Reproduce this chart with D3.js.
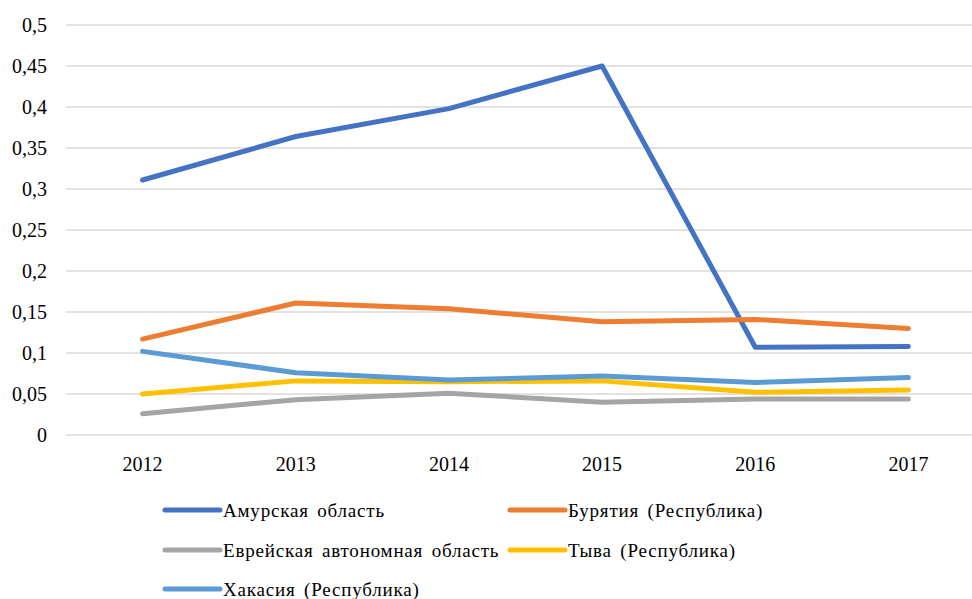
<!DOCTYPE html>
<html>
<head>
<meta charset="utf-8">
<script src="https://cdn.jsdelivr.net/npm/d3@7"></script>
<style>
  body { margin: 0; background: #fff; }
</style>
</head>
<body>
<svg id="chart" width="972" height="599"></svg>
<script>
var years = ["2012", "2013", "2014", "2015", "2016", "2017"];
var yTicks = [0, 0.05, 0.1, 0.15, 0.2, 0.25, 0.3, 0.35, 0.4, 0.45, 0.5];

var seriesNames = ["Амурская область", "Бурятия (Республика)", "Еврейская автономная область", "Тыва (Республика)", "Хакасия (Республика)"];
var amur = [0.311, 0.364, 0.398, 0.450, 0.107, 0.108];
var buryatia = [0.117, 0.161, 0.154, 0.138, 0.141, 0.130];
var evrei = [0.026, 0.043, 0.051, 0.040, 0.044, 0.044];
var tyva = [0.050, 0.066, 0.065, 0.066, 0.052, 0.055];
var khakasia = [0.102, 0.076, 0.067, 0.072, 0.064, 0.070];

var colors = ["#4472C4", "#ED7D31", "#A5A5A5", "#FFC000", "#5B9BD5"];
var allSeries = [amur, buryatia, evrei, tyva, khakasia];

var svg = d3.select("#chart");

// plot area (named so they don't clash with window.top)
var plotLeft = 66, plotRight = 985, plotTop = 25, plotBottom = 435;

var x = d3.scalePoint()
  .domain(years)
  .range([plotLeft, plotRight])
  .padding(0.5);

var y = d3.scaleLinear()
  .domain([0, 0.5])
  .range([plotBottom, plotTop]);

var fmt = function(d) { return String(+d.toFixed(2)).replace(".", ","); };

// gridlines
svg.append("g")
  .selectAll("line")
  .data(yTicks)
  .enter().append("line")
  .attr("x1", plotLeft)
  .attr("x2", plotRight)
  .attr("y1", function(d) { return y(d); })
  .attr("y2", function(d) { return y(d); })
  .attr("stroke", "#D9D9D9")
  .attr("stroke-width", 1.3);

// y axis labels
svg.append("g")
  .selectAll("text")
  .data(yTicks)
  .enter().append("text")
  .attr("x", 47)
  .attr("y", function(d) { return y(d); })
  .attr("dy", "0.35em")
  .attr("text-anchor", "end")
  .style("font-family", "Liberation Serif")
  .style("font-size", "20px")
  .text(fmt);

// x axis labels
svg.append("g")
  .selectAll("text")
  .data(years)
  .enter().append("text")
  .attr("x", function(d) { return x(d); })
  .attr("y", 471)
  .attr("text-anchor", "middle")
  .style("font-family", "Liberation Serif")
  .style("font-size", "20px")
  .text(function(d) { return d; });

// lines
var line = d3.line()
  .x(function(d, i) { return x(years[i]); })
  .y(function(d) { return y(d); });

svg.append("g")
  .selectAll("path")
  .data(allSeries)
  .enter().append("path")
  .attr("d", line)
  .attr("fill", "none")
  .attr("stroke", function(d, i) { return colors[i]; })
  .attr("stroke-width", 5)
  .attr("stroke-linecap", "round")
  .attr("stroke-linejoin", "round");

// legend
var legendPos = [[165, 510], [510, 510], [165, 550], [510, 550], [165, 589]];
var legend = svg.append("g")
  .selectAll("g")
  .data(seriesNames)
  .enter().append("g")
  .attr("transform", function(d, i) { return "translate(" + legendPos[i][0] + "," + legendPos[i][1] + ")"; });

legend.append("line")
  .attr("x1", 0)
  .attr("x2", 55)
  .attr("stroke", function(d, i) { return colors[i]; })
  .attr("stroke-width", 5)
  .attr("stroke-linecap", "round");

legend.append("text")
  .attr("x", 58)
  .attr("dy", "0.35em")
  .style("font-family", "Liberation Serif")
  .style("font-size", "19px")
  .style("letter-spacing", "0.8px")
  .style("word-spacing", "3px")
  .text(function(d) { return d; });
</script>
</body>
</html>
